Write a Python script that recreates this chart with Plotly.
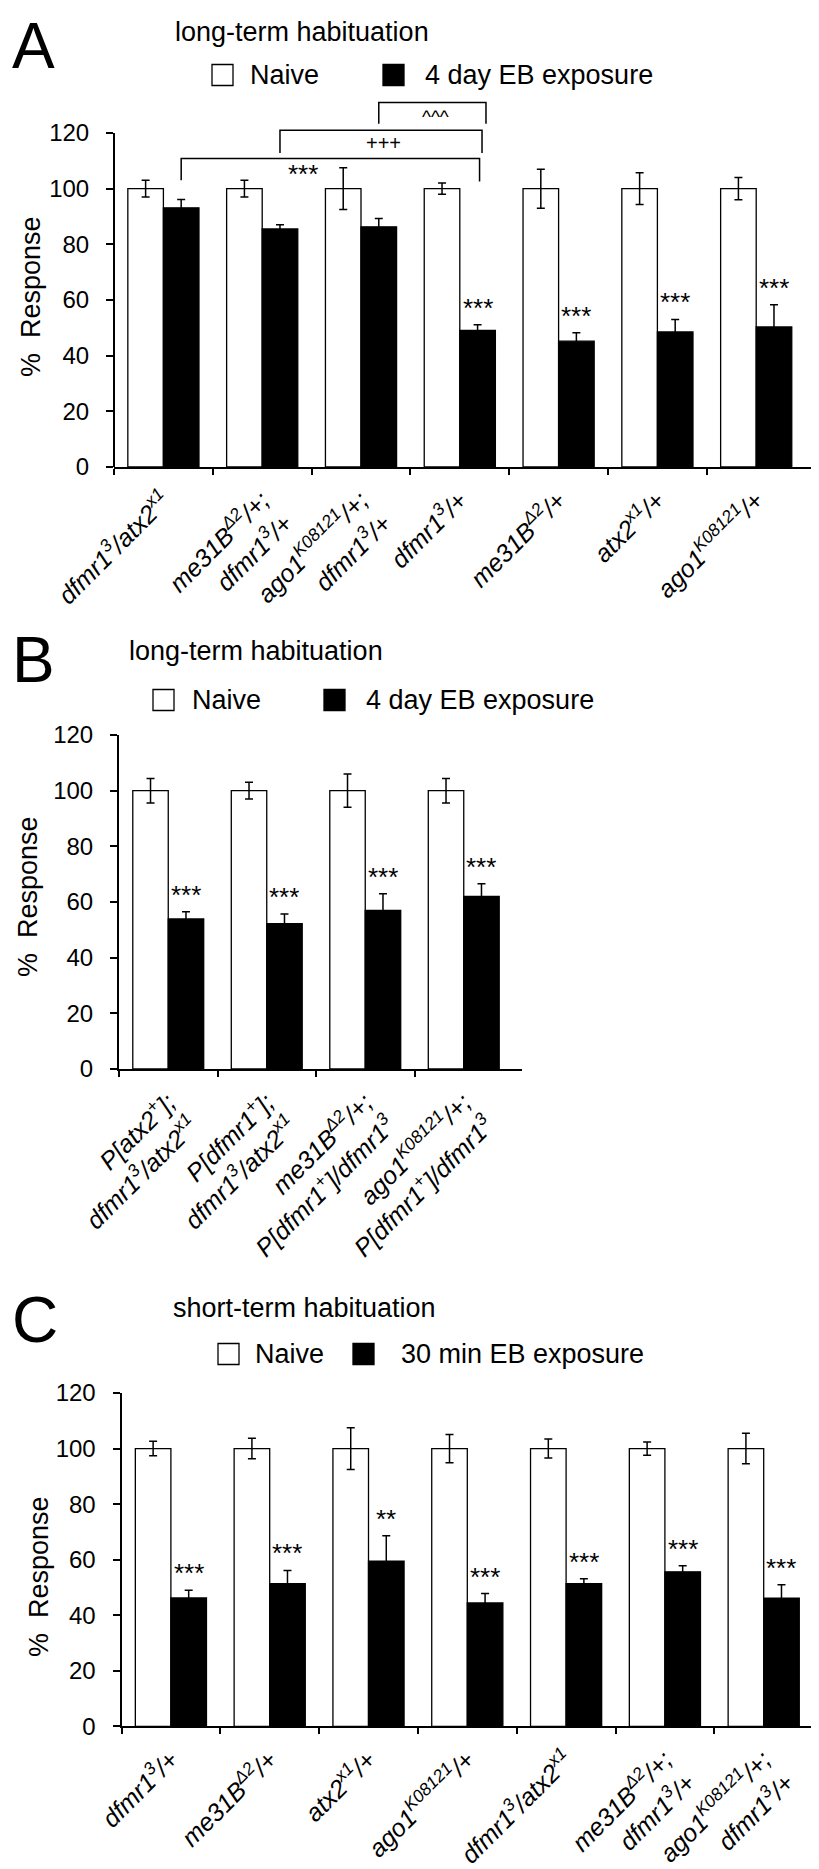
import plotly.graph_objects as go

W, H = 819, 1869
FONT = "Liberation Sans, Arial, Helvetica, sans-serif"

# ---------------- data ----------------
a_labels = [
    "dfmr1<sup>3</sup>/atx2<sup>x1</sup>",
    "me31B<sup>Δ2</sup>/+;<br>dfmr1<sup>3</sup>/+",
    "ago1<sup>K08121</sup>/+;<br>dfmr1<sup>3</sup>/+",
    "dfmr1<sup>3</sup>/+",
    "me31B<sup>Δ2</sup>/+",
    "atx2<sup>x1</sup>/+",
    "ago1<sup>K08121</sup>/+",
]
a_naive = [100, 100, 100, 100, 100, 100, 100]
a_naive_err = [3.0, 3.0, 7.5, 2.0, 7.0, 5.7, 4.0]
a_exp = [93.1, 85.5, 86.3, 49.1, 45.2, 48.5, 50.3]
a_exp_err = [3.0, 1.5, 3.0, 2.0, 3.0, 4.5, 8.0]
a_sig = ["", "", "", "***", "***", "***", "***"]

b_labels = [
    "P[atx2<sup>+</sup>];<br>dfmr1<sup>3</sup>/atx2<sup>x1</sup>",
    "P[dfmr1<sup>+</sup>];<br>dfmr1<sup>3</sup>/atx2<sup>x1</sup>",
    "me31B<sup>Δ2</sup>/+;<br>P[dfmr1<sup>+</sup>]/dfmr1<sup>3</sup>",
    "ago1<sup>K08121</sup>/+;<br>P[dfmr1<sup>+</sup>]/dfmr1<sup>3</sup>",
]
b_naive = [100, 100, 100, 100]
b_naive_err = [4.4, 3.0, 6.0, 4.4]
b_exp = [53.9, 52.2, 57.0, 62.0]
b_exp_err = [2.6, 3.5, 6.0, 4.6]
b_sig = ["***", "***", "***", "***"]

c_labels = [
    "dfmr1<sup>3</sup>/+",
    "me31B<sup>Δ2</sup>/+",
    "atx2<sup>x1</sup>/+",
    "ago1<sup>K08121</sup>/+",
    "dfmr1<sup>3</sup>/atx2<sup>x1</sup>",
    "me31B<sup>Δ2</sup>/+;<br>dfmr1<sup>3</sup>/+",
    "ago1<sup>K08121</sup>/+;<br>dfmr1<sup>3</sup>/+",
]
c_naive = [100, 100, 100, 100, 100, 100, 100]
c_naive_err = [2.6, 3.7, 7.5, 5.1, 3.4, 2.4, 5.5]
c_exp = [46.2, 51.4, 59.5, 44.4, 51.4, 55.6, 46.1]
c_exp_err = [2.8, 4.7, 9.1, 3.4, 1.7, 2.2, 4.9]
c_sig = ["***", "***", "**", "***", "***", "***", "***"]

# pairwise comparison brackets in panel A: (left group, right group, label)
a_brackets = [
    (0, 3, "***"),
    (1, 3, "+++"),
    (2, 3, "^^^"),
]

BARGAP = 0.28
fig = go.Figure()
annotations = []
shapes = []


def px(x):
    return x / W


def py(y):
    return 1 - y / H


def add_panel(n, labels, naive, naive_err, exp, exp_err, sig,
              left, right, y0px, y120px, ytop, unit, naive_name, exp_name):
    xr = "x" if n == 1 else f"x{n}"
    yr = "y" if n == 1 else f"y{n}"
    xs = [i + 0.5 for i in range(len(labels))]
    eb = dict(type="data", color="black", thickness=1.5, width=4)
    fig.add_trace(go.Bar(
        x=xs, y=naive, name=naive_name, xaxis=xr, yaxis=yr, showlegend=False,
        marker=dict(color="white", line=dict(color="black", width=1.3)),
        error_y=dict(array=naive_err, **eb)))
    fig.add_trace(go.Bar(
        x=xs, y=exp, name=exp_name, xaxis=xr, yaxis=yr, showlegend=False,
        marker=dict(color="black", line=dict(color="black", width=1.3)),
        error_y=dict(array=exp_err, **eb)))
    ppu = (y0px - y120px) / 120.0
    top_px = y0px - ytop * ppu
    xkey = "xaxis" if n == 1 else f"xaxis{n}"
    ykey = "yaxis" if n == 1 else f"yaxis{n}"
    fig.layout[xkey] = dict(
        domain=[px(left), px(right)], range=[0, (right - left) / unit],
        anchor=yr, tickmode="array", tickvals=xs, ticktext=labels, ticks="",
        tickangle=-45, ticklabelstandoff=7,
        tickfont=dict(family=FONT, size=25, color="black", style="italic"),
        showline=True, linewidth=2, linecolor="black", showgrid=False,
        zeroline=False, automargin=False, fixedrange=True,
        minor=dict(tickmode="array", tickvals=list(range(len(labels))),
                   ticks="outside", ticklen=6, tickwidth=2, tickcolor="black",
                   showgrid=False))
    fig.layout[ykey] = dict(
        domain=[py(y0px), py(top_px)], range=[0, ytop], anchor=xr,
        tickmode="array", tickvals=[0, 20, 40, 60, 80, 100, 120],
        ticks="outside", ticklen=7, tickwidth=2, tickcolor="black",
        ticklabelstandoff=12,
        tickfont=dict(family=FONT, size=24, color="black"),
        showline=(ytop == 120), linewidth=2, linecolor="black",
        showgrid=False, zeroline=False, automargin=False, fixedrange=True)
    if ytop != 120:
        shapes.append(dict(type="line", xref=f"{xr} domain", yref=yr,
                           x0=0, x1=0, y0=0, y1=120,
                           line=dict(color="black", width=2)))
    # significance stars above exposure bars
    off = (1 - BARGAP) / 4
    for i, s in enumerate(sig):
        if s:
            annotations.append(dict(
                x=xs[i] + off, y=exp[i] + exp_err[i], xref=xr, yref=yr,
                text=s, showarrow=False, xanchor="center", yanchor="bottom",
                font=dict(family=FONT, size=26, color="black")))
    return xs, off, xr, yr


def add_header(letter, letter_top, title, title_x, title_y, leg_y,
               sq1_x, t1_x, sq2_x, t2_x, exp_name, ytitle_x, ytitle_y):
    annotations.append(dict(x=px(2), y=py(letter_top), xref="paper",
                            yref="paper", text=letter, showarrow=False,
                            xanchor="left", yanchor="top",
                            font=dict(family=FONT, size=64, color="black")))
    annotations.append(dict(x=px(title_x), y=py(title_y), xref="paper",
                            yref="paper", text=title, showarrow=False,
                            xanchor="left", yanchor="middle",
                            font=dict(family=FONT, size=27, color="black")))
    sq = 21
    for sx, col in ((sq1_x, "white"), (sq2_x, "black")):
        shapes.append(dict(type="rect", xref="paper", yref="paper",
                           x0=px(sx), x1=px(sx + sq),
                           y0=py(leg_y + sq / 2), y1=py(leg_y - sq / 2),
                           fillcolor=col, line=dict(color="black", width=1.3)))
    for tx, txt in ((t1_x, "Naive"), (t2_x, exp_name)):
        annotations.append(dict(x=px(tx), y=py(leg_y), xref="paper",
                                yref="paper", text=txt, showarrow=False,
                                xanchor="left", yanchor="middle",
                                font=dict(family=FONT, size=27, color="black")))
    annotations.append(dict(x=px(ytitle_x), y=py(ytitle_y), xref="paper",
                            yref="paper", text="%  Response", textangle=-90,
                            showarrow=False, xanchor="center", yanchor="middle",
                            font=dict(family=FONT, size=27, color="black")))


# ---------------- panel A ----------------
xsA, offA, xrA, yrA = add_panel(1, a_labels, a_naive, a_naive_err, a_exp,
                                a_exp_err, a_sig, 106, 819, 459, 125, 134,
                                98.8, "Naive", "4 day EB exposure")
add_header("A", 0, "long-term habituation", 165, 24, 67,
           204, 240, 375, 415, "4 day EB exposure", 23, 289)

# brackets
br_tops = [110.8, 121.0, 131.0]
br_left_bottom = [103.0, 112.8, 123.3]
br_right_bottom = [102.6, 112.8, 123.3]
br_right_stagger = [0.02, 0.045, 0.085]
br_text_x = [1.91, 2.73, 3.25]
br_text_y = [105.3, 116.4, 125.8]
br_text_size = [26, 20, 19]
for k, (li, ri, lab) in enumerate(a_brackets):
    xl = xsA[li] + offA
    xrgt = xsA[ri] + offA + br_right_stagger[k]
    fig.add_trace(go.Scatter(
        x=[xl, xl, xrgt, xrgt],
        y=[br_left_bottom[k], br_tops[k], br_tops[k], br_right_bottom[k]],
        mode="lines", line=dict(color="black", width=1.5),
        xaxis=xrA, yaxis=yrA, showlegend=False, hoverinfo="skip"))
    annotations.append(dict(x=br_text_x[k], y=br_text_y[k], xref=xrA, yref=yrA,
                            text=lab, showarrow=False, xanchor="center",
                            yanchor="middle",
                            font=dict(family=FONT, size=br_text_size[k],
                                      color="black")))

# ---------------- panel B ----------------
add_panel(2, b_labels, b_naive, b_naive_err, b_exp, b_exp_err, b_sig,
          111, 514, 1061, 727, 120, 98.5, "Naive", "4 day EB exposure")
add_header("B", 614, "long-term habituation", 119, 643, 692,
           145, 182, 316, 356, "4 day EB exposure", 20, 889)

# ---------------- panel C ----------------
add_panel(3, c_labels, c_naive, c_naive_err, c_exp, c_exp_err, c_sig,
          113.5, 804, 1718.3, 1385, 120, 98.8, "Naive", "30 min EB exposure")
add_header("C", 1274, "short-term habituation", 163, 1300, 1346,
           210, 245, 345, 391, "30 min EB exposure", 31, 1569)

fig.update_layout(
    width=W, height=H, margin=dict(l=0, r=0, t=0, b=0),
    paper_bgcolor="white", plot_bgcolor="white",
    barmode="group", bargap=BARGAP, bargroupgap=0,
    annotations=annotations, shapes=shapes, showlegend=False,
    font=dict(family=FONT, color="black"),
)

fig.write_html("out.html")
